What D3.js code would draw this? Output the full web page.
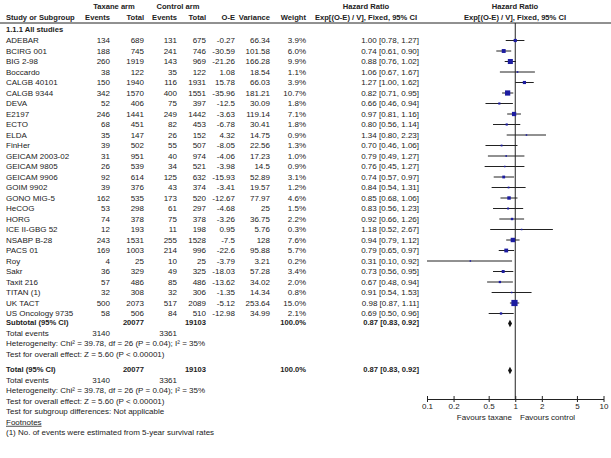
<!DOCTYPE html>
<html><head><meta charset="utf-8">
<script src="https://cdn.jsdelivr.net/npm/d3@7"></script>
<style>body{margin:0;background:#fff}svg{display:block}text{font-family:"Liberation Sans",Arial,sans-serif;font-size:8px;fill:#222}</style>
</head><body>
<script>
// ---------- data ----------
const studies = ["ADEBAR","BCIRG 001","BIG 2-98","Boccardo","CALGB 40101","CALGB 9344","DEVA","E2197","ECTO","ELDA","FinHer","GEICAM 2003-02","GEICAM 9805","GEICAM 9906","GOIM 9902","GONO MIG-5","HeCOG","HORG","ICE II-GBG 52","NSABP B-28","PACS 01","Roy","Sakr","Taxit 216","TITAN (1)","UK TACT","US Oncology 9735"];
const taxEvents = [134,188,260,38,150,342,52,246,68,35,39,31,26,92,39,162,53,74,12,243,169,4,36,57,32,500,58];
const taxTotal = [689,745,1919,122,1940,1570,406,1441,451,147,502,951,539,614,376,535,298,378,193,1531,1003,25,329,486,308,2073,506];
const ctlEvents = [131,241,143,35,116,400,75,249,82,26,55,40,34,125,43,173,61,75,11,255,214,10,49,85,32,517,84];
const ctlTotal = [675,746,969,122,1931,1551,397,1442,453,152,507,974,521,632,374,520,297,378,198,1528,996,25,325,486,306,2089,510];
const oe = [-0.27,-30.59,-21.26,1.08,15.78,-35.96,-12.5,-3.63,-6.78,4.32,-8.05,-4.06,-3.98,-15.93,-3.41,-12.67,-4.68,-3.26,0.95,-7.5,-22.6,-3.79,-18.03,-13.62,-1.35,-5.12,-12.98];
const variance = [66.34,101.58,166.28,18.54,66.03,181.21,30.09,119.14,30.41,14.75,22.56,17.23,14.5,52.89,19.57,77.97,25,36.75,5.76,128,95.88,3.21,57.28,34.02,14.34,253.64,34.99];
const weight = [3.9,6.0,9.9,1.1,3.9,10.7,1.8,7.1,1.8,0.9,1.3,1.0,0.9,3.1,1.2,4.6,1.5,2.2,0.3,7.6,5.7,0.2,3.4,2.0,0.8,15.0,2.1];
const hr = [1.00,0.74,0.88,1.06,1.27,0.82,0.66,0.97,0.80,1.34,0.70,0.79,0.76,0.74,0.84,0.85,0.83,0.92,1.18,0.94,0.79,0.31,0.73,0.67,0.91,0.98,0.69];
const lo = [0.78,0.61,0.76,0.67,1.00,0.71,0.46,0.81,0.56,0.80,0.46,0.49,0.45,0.57,0.54,0.68,0.56,0.66,0.52,0.79,0.65,0.10,0.56,0.48,0.54,0.87,0.50];
const hi = [1.27,0.90,1.02,1.67,1.62,0.95,0.94,1.16,1.14,2.23,1.06,1.27,1.27,0.97,1.31,1.06,1.23,1.26,2.67,1.12,0.97,0.92,0.95,0.94,1.53,1.11,0.96];
const pooled = [0.87, 0.83, 0.92];
const totals = [20077, 19103];
const totalEvents = [3140, 3361];
const tickValues = [0.1,0.2,0.5,1,2,5,10];
const tickLabels = ["0.1","0.2","0.5","1","2","5","10"];
const hetText = "Heterogeneity: Chi\u00B2 = 39.78, df = 26 (P = 0.04); I\u00B2 = 35%";
const testText = "Test for overall effect: Z = 5.60 (P < 0.00001)";

// ---------- layout ----------
const W = 611, H = 458;
const col = {study:6, taxE:110, taxT:144, ctlE:177, ctlT:206, oe:235, vr:270, wt:306, hr:419};
const y0 = 40.5, step = 10.5;
const rowY = i => y0 + i * step;
const axisY = 399;
const HF = 7.6; // header font size

const svg = d3.select("body").append("svg").attr("width", W).attr("height", H);
svg.append("rect").attr("width", W).attr("height", H).attr("fill", "#fff");

const x = d3.scaleLog().domain([0.1, 10]).range([427, 603.5]);

function txt(xp, yp, s, anchor = "start", bold = false, size = 8) {
  return svg.append("text").attr("x", xp).attr("y", yp).attr("dy", "0.35em")
    .attr("text-anchor", anchor).attr("font-weight", bold ? "bold" : "normal")
    .style("font-size", size + "px").text(s);
}
const fmt2 = v => v.toFixed(2);
const ciText = (h, l, u) => `${fmt2(h)} [${fmt2(l)}, ${fmt2(u)}]`;

// headers
txt(114, 6.5, "Taxane arm", "middle", true, HF);
txt(178, 6.5, "Control arm", "middle", true, HF);
txt(366, 6.5, "Hazard Ratio", "middle", true, HF);
txt(515, 6.5, "Hazard Ratio", "middle", true, HF);
const hy = 17;
txt(col.study, hy, "Study or Subgroup", "start", true, HF);
txt(col.taxE, hy, "Events", "end", true, HF);
txt(col.taxT, hy, "Total", "end", true, HF);
txt(col.ctlE, hy, "Events", "end", true, HF);
txt(col.ctlT, hy, "Total", "end", true, HF);
txt(col.oe, hy, "O-E", "end", true, HF);
txt(col.vr, hy, "Variance", "end", true, HF);
txt(col.wt, hy, "Weight", "end", true, HF);
txt(366, hy, "Exp[(O-E) / V], Fixed, 95% CI", "middle", true, HF);
txt(515, hy, "Exp[(O-E) / V], Fixed, 95% CI", "middle", true, HF);
svg.append("line").attr("x1", 0).attr("x2", W).attr("y1", 23).attr("y2", 23).attr("stroke", "#222").attr("stroke-width", 1);
txt(col.study, 29, "1.1.1 All studies", "start", true, HF);

// study rows
studies.forEach((s, i) => {
  const y = rowY(i);
  txt(col.study, y, s);
  txt(col.taxE, y, taxEvents[i], "end");
  txt(col.taxT, y, taxTotal[i], "end");
  txt(col.ctlE, y, ctlEvents[i], "end");
  txt(col.ctlT, y, ctlTotal[i], "end");
  txt(col.oe, y, String(oe[i]), "end");
  txt(col.vr, y, String(variance[i]), "end");
  txt(col.wt, y, weight[i].toFixed(1) + "%", "end");
  txt(col.hr, y, ciText(hr[i], lo[i], hi[i]), "end");
});

// reference line
svg.append("line").attr("x1", x(1)).attr("x2", x(1)).attr("y1", 23).attr("y2", axisY)
  .attr("stroke", "#222").attr("stroke-width", 1);

// CI lines and squares
const g = svg.append("g");
g.selectAll("line.ci").data(studies).join("line").attr("class", "ci")
  .attr("x1", (d, i) => x(lo[i])).attr("x2", (d, i) => x(hi[i]))
  .attr("y1", (d, i) => rowY(i)).attr("y2", (d, i) => rowY(i))
  .attr("stroke", "#222").attr("stroke-width", 1);
g.selectAll("rect.sq").data(studies).join("rect").attr("class", "sq")
  .each(function (d, i) {
    const s = Math.max(1.5, 1.6 * Math.sqrt(weight[i]));
    d3.select(this).attr("x", x(hr[i]) - s / 2).attr("y", rowY(i) - s / 2)
      .attr("width", s).attr("height", s);
  })
  .attr("fill", "#1c1ca0");

function diamond(yc) {
  const pts = [[x(pooled[1]), yc], [x(pooled[0]), yc - 3.8], [x(pooled[2]), yc], [x(pooled[0]), yc + 3.8]];
  svg.append("path").attr("d", "M" + pts.map(p => p.join(",")).join("L") + "Z").attr("fill", "#111");
}

// subtotal block
const ySub = rowY(27) - 1.5;
txt(col.study, ySub, "Subtotal (95% CI)", "start", true, HF);
txt(col.taxT, ySub, totals[0], "end", true, HF);
txt(col.ctlT, ySub, totals[1], "end", true, HF);
txt(col.wt, ySub, "100.0%", "end", true, HF);
txt(col.hr, ySub, ciText(...pooled), "end", true, HF);
diamond(ySub + 1);
txt(col.study, ySub + step, "Total events");
txt(col.taxE, ySub + step, totalEvents[0], "end");
txt(col.ctlE, ySub + step, totalEvents[1], "end");
txt(col.study, ySub + 2 * step, hetText);
txt(col.study, ySub + 3 * step, testText);

// total block
const yTot = 369.5;
txt(col.study, yTot, "Total (95% CI)", "start", true, HF);
txt(col.taxT, yTot, totals[0], "end", true, HF);
txt(col.ctlT, yTot, totals[1], "end", true, HF);
txt(col.wt, yTot, "100.0%", "end", true, HF);
txt(col.hr, yTot, ciText(...pooled), "end", true, HF);
diamond(yTot + 1);
txt(col.study, yTot + step, "Total events");
txt(col.taxE, yTot + step, totalEvents[0], "end");
txt(col.ctlE, yTot + step, totalEvents[1], "end");
txt(col.study, yTot + 2 * step, hetText);
txt(col.study, yTot + 3 * step, testText);
txt(col.study, yTot + 4 * step, "Test for subgroup differences: Not applicable");
txt(col.study, yTot + 5 * step, "Footnotes").attr("text-decoration", "underline");
txt(col.study, yTot + 6 * step, "(1) No. of events were estimated from 5-year survival rates");

// axis
const axis = d3.axisBottom(x).tickValues(tickValues).tickFormat((d, i) => tickLabels[i])
  .tickSizeInner(3).tickSizeOuter(0).tickPadding(1.5);
const ag = svg.append("g").attr("transform", `translate(0,${axisY})`).call(axis);
ag.select(".domain").attr("stroke", "#222");
ag.selectAll(".tick line").attr("y1", -3).attr("y2", 3).attr("stroke", "#222");
ag.selectAll(".tick text").attr("fill", "#222").attr("font-size", 8)
  .attr("font-family", '"Liberation Sans",Arial,sans-serif');
txt(512, 417.5, "Favours taxane", "end");
txt(520, 417.5, "Favours control", "start");
</script>
</body></html>
